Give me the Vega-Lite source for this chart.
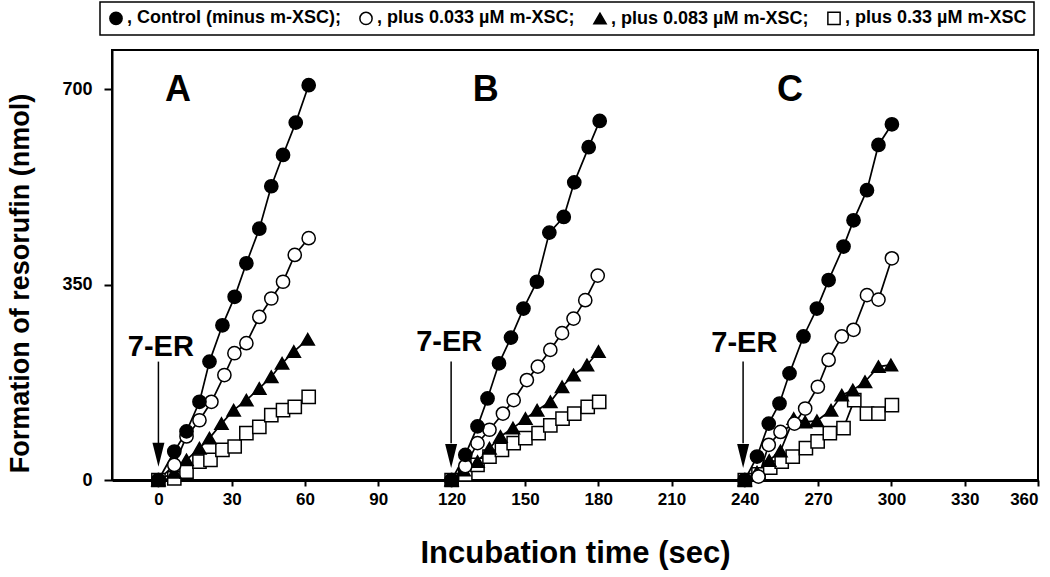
{
  "$schema": "https://vega.github.io/schema/vega-lite/v6.json",
  "width": 926,
  "height": 430,
  "autosize": {"type": "none"},
  "padding": {"left": 112, "top": 50, "right": 12, "bottom": 97},
  "background": "white",
  "config": {
    "view": {"stroke": "black", "strokeWidth": 2},
    "font": "Liberation Sans",
    "legend": {
      "strokeColor": "black",
      "strokeWidth": 1.5,
      "padding": 7,
      "labelFont": "Liberation Sans",
      "labelFontSize": 18,
      "labelFontWeight": "bold",
      "labelColor": "black",
      "symbolSize": 150,
      "symbolStrokeWidth": 1.5,
      "labelOffset": 2,
      "columnPadding": 15,
      "labelLimit": 400
    }
  },
  "datasets": {
    "obs": [
      {"p":"A","s":"sq","t":0,"v":0},{"p":"A","s":"sq","t":6.5,"v":3},{"p":"A","s":"sq","t":11.5,"v":15},{"p":"A","s":"sq","t":16.8,"v":33},{"p":"A","s":"sq","t":21.3,"v":36},{"p":"A","s":"sq","t":26.2,"v":54},{"p":"A","s":"sq","t":31.2,"v":60},{"p":"A","s":"sq","t":36,"v":84},{"p":"A","s":"sq","t":41.3,"v":95},{"p":"A","s":"sq","t":46.2,"v":116},{"p":"A","s":"sq","t":51,"v":125},{"p":"A","s":"sq","t":55.8,"v":131},{"p":"A","s":"sq","t":61.5,"v":149},
      {"p":"B","s":"sq","t":120,"v":0},{"p":"B","s":"sq","t":125.6,"v":10},{"p":"B","s":"sq","t":130.6,"v":27},{"p":"B","s":"sq","t":135.5,"v":42},{"p":"B","s":"sq","t":140.6,"v":54},{"p":"B","s":"sq","t":145.4,"v":66},{"p":"B","s":"sq","t":150.2,"v":75},{"p":"B","s":"sq","t":155.6,"v":84},{"p":"B","s":"sq","t":160.4,"v":98},{"p":"B","s":"sq","t":165.4,"v":110},{"p":"B","s":"sq","t":170.2,"v":119},{"p":"B","s":"sq","t":175.7,"v":131},{"p":"B","s":"sq","t":180.4,"v":140},
      {"p":"C","s":"sq","t":240,"v":0},{"p":"C","s":"sq","t":245.6,"v":10},{"p":"C","s":"sq","t":250.4,"v":22},{"p":"C","s":"sq","t":255.1,"v":33},{"p":"C","s":"sq","t":259.6,"v":42},{"p":"C","s":"sq","t":265,"v":57},{"p":"C","s":"sq","t":269.8,"v":69},{"p":"C","s":"sq","t":274.8,"v":84},{"p":"C","s":"sq","t":280.4,"v":93},{"p":"C","s":"sq","t":284.8,"v":143},{"p":"C","s":"sq","t":290,"v":119},{"p":"C","s":"sq","t":294.7,"v":119},{"p":"C","s":"sq","t":300.2,"v":134},
      {"p":"A","s":"tri","t":0,"v":0},{"p":"A","s":"tri","t":6.5,"v":14},{"p":"A","s":"tri","t":11.5,"v":36},{"p":"A","s":"tri","t":16.8,"v":57},{"p":"A","s":"tri","t":20.9,"v":75},{"p":"A","s":"tri","t":25.8,"v":101},{"p":"A","s":"tri","t":30.8,"v":125},{"p":"A","s":"tri","t":36,"v":143},{"p":"A","s":"tri","t":41.3,"v":164},{"p":"A","s":"tri","t":46.2,"v":185},{"p":"A","s":"tri","t":50.6,"v":209},{"p":"A","s":"tri","t":55.4,"v":230},{"p":"A","s":"tri","t":61.1,"v":252},
      {"p":"B","s":"tri","t":120,"v":0},{"p":"B","s":"tri","t":124.9,"v":18},{"p":"B","s":"tri","t":130.6,"v":33},{"p":"B","s":"tri","t":135.5,"v":57},{"p":"B","s":"tri","t":140,"v":78},{"p":"B","s":"tri","t":145.1,"v":93},{"p":"B","s":"tri","t":150.2,"v":110},{"p":"B","s":"tri","t":155,"v":125},{"p":"B","s":"tri","t":160.4,"v":140},{"p":"B","s":"tri","t":165.2,"v":167},{"p":"B","s":"tri","t":169.9,"v":188},{"p":"B","s":"tri","t":175.4,"v":206},{"p":"B","s":"tri","t":180.1,"v":230},
      {"p":"C","s":"tri","t":240,"v":0},{"p":"C","s":"tri","t":245,"v":14},{"p":"C","s":"tri","t":250,"v":35},{"p":"C","s":"tri","t":254.6,"v":52},{"p":"C","s":"tri","t":260,"v":110},{"p":"C","s":"tri","t":264.7,"v":104},{"p":"C","s":"tri","t":269.5,"v":106},{"p":"C","s":"tri","t":275.3,"v":125},{"p":"C","s":"tri","t":279.7,"v":152},{"p":"C","s":"tri","t":284.2,"v":161},{"p":"C","s":"tri","t":289.2,"v":176},{"p":"C","s":"tri","t":294.7,"v":203},{"p":"C","s":"tri","t":299.8,"v":206},
      {"p":"A","s":"open","t":0,"v":0},{"p":"A","s":"open","t":6.5,"v":27},{"p":"A","s":"open","t":11.5,"v":78},{"p":"A","s":"open","t":16.8,"v":107},{"p":"A","s":"open","t":21.7,"v":140},{"p":"A","s":"open","t":27,"v":188},{"p":"A","s":"open","t":31.1,"v":227},{"p":"A","s":"open","t":36,"v":245},{"p":"A","s":"open","t":41.3,"v":292},{"p":"A","s":"open","t":46.2,"v":325},{"p":"A","s":"open","t":51,"v":355},{"p":"A","s":"open","t":55.8,"v":403},{"p":"A","s":"open","t":61.5,"v":433},
      {"p":"B","s":"open","t":120,"v":0},{"p":"B","s":"open","t":125.6,"v":25},{"p":"B","s":"open","t":130.6,"v":66},{"p":"B","s":"open","t":135.5,"v":90},{"p":"B","s":"open","t":141,"v":119},{"p":"B","s":"open","t":145.4,"v":143},{"p":"B","s":"open","t":150.8,"v":179},{"p":"B","s":"open","t":155.3,"v":203},{"p":"B","s":"open","t":160.4,"v":233},{"p":"B","s":"open","t":165.2,"v":263},{"p":"B","s":"open","t":169.9,"v":289},{"p":"B","s":"open","t":174.7,"v":322},{"p":"B","s":"open","t":179.8,"v":366},
      {"p":"C","s":"open","t":240,"v":0},{"p":"C","s":"open","t":245.6,"v":6},{"p":"C","s":"open","t":249.8,"v":63},{"p":"C","s":"open","t":254.6,"v":86},{"p":"C","s":"open","t":260.3,"v":101},{"p":"C","s":"open","t":264.7,"v":128},{"p":"C","s":"open","t":269.9,"v":167},{"p":"C","s":"open","t":274.3,"v":215},{"p":"C","s":"open","t":279.7,"v":257},{"p":"C","s":"open","t":284.5,"v":269},{"p":"C","s":"open","t":290,"v":331},{"p":"C","s":"open","t":294.7,"v":323},{"p":"C","s":"open","t":300.2,"v":397},
      {"p":"A","s":"ctrl","t":0,"v":0},{"p":"A","s":"ctrl","t":6.5,"v":51},{"p":"A","s":"ctrl","t":11.5,"v":87},{"p":"A","s":"ctrl","t":16.8,"v":140},{"p":"A","s":"ctrl","t":20.9,"v":212},{"p":"A","s":"ctrl","t":26.2,"v":277},{"p":"A","s":"ctrl","t":31.2,"v":328},{"p":"A","s":"ctrl","t":36,"v":388},{"p":"A","s":"ctrl","t":41.3,"v":450},{"p":"A","s":"ctrl","t":46.2,"v":526},{"p":"A","s":"ctrl","t":51,"v":582},{"p":"A","s":"ctrl","t":56.2,"v":640},{"p":"A","s":"ctrl","t":61.5,"v":707},
      {"p":"B","s":"ctrl","t":120,"v":0},{"p":"B","s":"ctrl","t":125.6,"v":45},{"p":"B","s":"ctrl","t":130.6,"v":96},{"p":"B","s":"ctrl","t":134.7,"v":146},{"p":"B","s":"ctrl","t":139.4,"v":209},{"p":"B","s":"ctrl","t":144.3,"v":255},{"p":"B","s":"ctrl","t":149.4,"v":307},{"p":"B","s":"ctrl","t":154.9,"v":355},{"p":"B","s":"ctrl","t":160,"v":443},{"p":"B","s":"ctrl","t":165.9,"v":471},{"p":"B","s":"ctrl","t":170.2,"v":533},{"p":"B","s":"ctrl","t":176.1,"v":596},{"p":"B","s":"ctrl","t":180.6,"v":643},
      {"p":"C","s":"ctrl","t":240,"v":0},{"p":"C","s":"ctrl","t":245,"v":42},{"p":"C","s":"ctrl","t":249.8,"v":101},{"p":"C","s":"ctrl","t":254.2,"v":137},{"p":"C","s":"ctrl","t":258.3,"v":191},{"p":"C","s":"ctrl","t":264,"v":257},{"p":"C","s":"ctrl","t":269.5,"v":307},{"p":"C","s":"ctrl","t":274.3,"v":358},{"p":"C","s":"ctrl","t":280.4,"v":418},{"p":"C","s":"ctrl","t":284.5,"v":465},{"p":"C","s":"ctrl","t":290,"v":519},{"p":"C","s":"ctrl","t":294.7,"v":600},{"p":"C","s":"ctrl","t":300.2,"v":637}
    ],
    "letters": [
      {"t": 8, "v": 698, "label": "A"},
      {"t": 134, "v": 698, "label": "B"},
      {"t": 258.5, "v": 698, "label": "C"}
    ],
    "er": [
      {"t": 0, "v": 212, "v2": 66, "tt": 1, "tv": 238, "hv": 45, "label": "7-ER"},
      {"t": 119.8, "v": 212, "v2": 66, "tt": 119, "tv": 247, "hv": 43, "label": "7-ER"},
      {"t": 239.3, "v": 212, "v2": 66, "tt": 239.8, "tv": 245, "hv": 43, "label": "7-ER"}
    ]
  },
  "encoding": {
    "x": {
      "field": "t", "type": "quantitative",
      "scale": {"domain": [-19, 360], "nice": false, "zero": false},
      "axis": {
        "title": "Incubation time (sec)",
        "values": [0, 30, 60, 90, 120, 150, 180, 210, 240, 270, 300, 330, 360],
        "grid": false,
        "tickSize": 6, "tickWidth": 2, "tickColor": "black",
        "domainColor": "black", "domainWidth": 3,
        "labelFontSize": 17, "labelFontWeight": "bold", "labelColor": "black",
        "labelPadding": 5, "labelFlush": true,
        "titleFontSize": 31, "titleFontWeight": "bold", "titleColor": "black",
        "titleY": 73, "titleBaseline": "middle"
      }
    },
    "y": {
      "field": "v", "type": "quantitative",
      "scale": {"domain": [0, 770], "nice": false},
      "axis": {
        "title": "Formation of resorufin (nmol)",
        "values": [0, 350, 700],
        "grid": false,
        "tickSize": 8, "tickWidth": 2, "tickColor": "black",
        "domainColor": "black", "domainWidth": 2,
        "labelFontSize": 18, "labelFontWeight": "bold", "labelColor": "black",
        "labelPadding": 12,
        "titleFontSize": 27, "titleFontWeight": "bold", "titleColor": "black",
        "titleX": -92, "titleY": 233, "titleAlign": "center", "titleBaseline": "middle", "titleAngle": -90
      }
    }
  },
  "layer": [
    {
      "data": {"name": "obs"},
      "mark": {"type": "line", "color": "black", "strokeWidth": 1.7},
      "encoding": {"detail": [{"field": "p"}, {"field": "s"}]}
    },
    {
      "data": {"name": "obs"},
      "mark": {"type": "point", "filled": true, "strokeWidth": 1.5, "opacity": 1, "size": 175},
      "encoding": {
        "shape": {
          "field": "s", "type": "nominal",
          "scale": {"domain": ["ctrl", "open", "tri", "sq"], "range": ["circle", "circle", "triangle-up", "square"]},
          "legend": {
            "title": null, "orient": "none", "legendX": -12, "legendY": -48, "direction": "horizontal",
            "labelExpr": "datum.value == 'ctrl' ? ', Control (minus m-XSC);' : datum.value == 'open' ? ', plus 0.033 µM m-XSC;' : datum.value == 'tri' ? ', plus 0.083 µM m-XSC;' : ', plus 0.33 µM m-XSC'"
          }
        },
        "fill": {
          "field": "s", "type": "nominal",
          "scale": {"domain": ["ctrl", "open", "tri", "sq"], "range": ["black", "white", "black", "white"]},
          "legend": {
            "title": null, "orient": "none", "legendX": -12, "legendY": -48, "direction": "horizontal",
            "labelExpr": "datum.value == 'ctrl' ? ', Control (minus m-XSC);' : datum.value == 'open' ? ', plus 0.033 µM m-XSC;' : datum.value == 'tri' ? ', plus 0.083 µM m-XSC;' : ', plus 0.33 µM m-XSC'"
          }
        },
        "stroke": {
          "field": "s", "type": "nominal",
          "scale": {"domain": ["ctrl", "open", "tri", "sq"], "range": ["black", "black", "black", "black"]},
          "legend": {
            "title": null, "orient": "none", "legendX": -12, "legendY": -48, "direction": "horizontal",
            "labelExpr": "datum.value == 'ctrl' ? ', Control (minus m-XSC);' : datum.value == 'open' ? ', plus 0.033 µM m-XSC;' : datum.value == 'tri' ? ', plus 0.083 µM m-XSC;' : ', plus 0.33 µM m-XSC'"
          }
        }
      }
    },
    {
      "data": {"name": "er"},
      "mark": {"type": "rule", "color": "black", "strokeWidth": 1.5},
      "encoding": {"y2": {"field": "v2"}}
    },
    {
      "data": {"name": "er"},
      "mark": {"type": "point", "shape": "M-0.5,-1L0.5,-1L0,1Z", "filled": true, "color": "black", "size": 576, "opacity": 1},
      "encoding": {"y": {"field": "hv", "type": "quantitative"}}
    },
    {
      "data": {"name": "er"},
      "mark": {"type": "text", "fontSize": 29, "fontWeight": "bold", "color": "black", "baseline": "middle", "align": "center"},
      "encoding": {"x": {"field": "tt", "type": "quantitative"}, "y": {"field": "tv", "type": "quantitative"}, "text": {"field": "label"}}
    },
    {
      "data": {"name": "letters"},
      "mark": {"type": "text", "fontSize": 36, "fontWeight": "bold", "color": "black", "baseline": "middle", "align": "center"},
      "encoding": {"text": {"field": "label"}}
    }
  ]
}
